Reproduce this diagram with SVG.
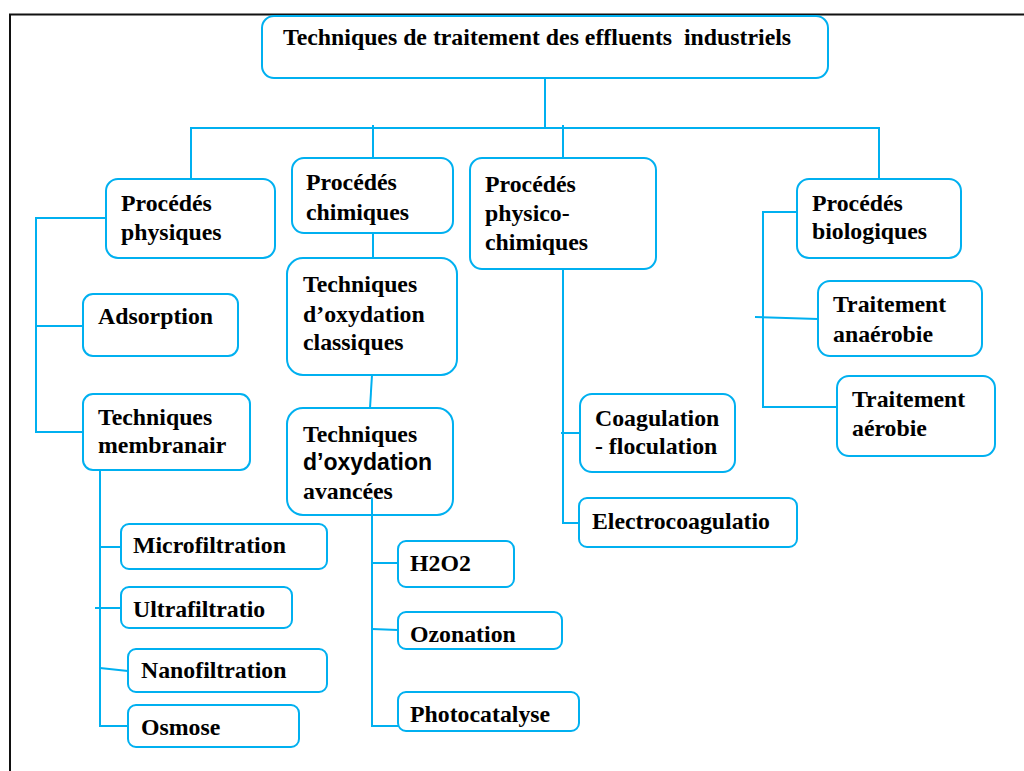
<svg xmlns="http://www.w3.org/2000/svg" width="1024" height="771" viewBox="0 0 1024 771">
<style>
.b{fill:#fff;stroke:#00B0F0;stroke-width:2}
.c{fill:none;stroke:#00B0F0;stroke-width:2}
.t{font-family:"Liberation Serif","Times New Roman",serif;font-weight:bold;font-size:23.8px;fill:#000;white-space:pre}
.s{font-family:"Liberation Sans",Arial,sans-serif;font-weight:bold;font-size:23px;fill:#000}
</style>
<rect width="1024" height="771" fill="#fff"/>
<path d="M10,771 V14.5 H1024" fill="none" stroke="#111" stroke-width="2"/>
<g id="connectors">
<path class="c" d="M545,79 V128"/>
<path class="c" d="M191,179 V128 H879 V179"/>
<path class="c" d="M373,125 V158"/>
<path class="c" d="M563,125 V158"/>
<path class="c" d="M106,218 H36 V432 H83"/>
<path class="c" d="M36,326 H83"/>
<path class="c" d="M373,233 V258"/>
<path class="c" d="M372,375 L370,408"/>
<path class="c" d="M372,498 V726 H398"/>
<path class="c" d="M372,563 H398"/>
<path class="c" d="M372,629 L398,630"/>
<path class="c" d="M100,470 V726 H128"/>
<path class="c" d="M100,547 H121"/>
<path class="c" d="M95,608 H121"/>
<path class="c" d="M100,668 L128,671"/>
<path class="c" d="M563,269 V523 H579"/>
<path class="c" d="M561,433 H580"/>
<path class="c" d="M797,212 H763 V407 H837"/>
<path class="c" d="M755,317 L818,319"/>
</g>
<g id="root"><rect class="b" x="262" y="16" width="566" height="62" rx="12"/><text class="t" x="283" y="45" font-size="23" xml:space="preserve">Techniques de traitement des effluents  industriels</text></g>
<g id="physiques"><rect class="b" x="106" y="179" width="169" height="79" rx="12"/><text class="t" x="121" y="211">Procédés</text><text class="t" x="121" y="240">physiques</text></g>
<g id="chimiques"><rect class="b" x="292" y="158" width="161" height="75" rx="12"/><text class="t" x="306" y="190">Procédés</text><text class="t" x="306" y="220">chimiques</text></g>
<g id="physico"><rect class="b" x="470" y="158" width="186" height="111" rx="12"/><text class="t" x="485" y="192">Procédés</text><text class="t" x="485" y="221">physico-</text><text class="t" x="485" y="250">chimiques</text></g>
<g id="biologiques"><rect class="b" x="797" y="179" width="164" height="79" rx="12"/><text class="t" x="812" y="211">Procédés</text><text class="t" x="812" y="239">biologiques</text></g>
<g id="adsorption"><rect class="b" x="83" y="294" width="155" height="62" rx="10"/><text class="t" x="98" y="324">Adsorption</text></g>
<g id="membranair"><rect class="b" x="83" y="394" width="167" height="76" rx="10"/><text class="t" x="98" y="425">Techniques</text><text class="t" x="98" y="453">membranair</text></g>
<g id="classiques"><rect class="b" x="287" y="258" width="170" height="117" rx="16"/><text class="t" x="303" y="292">Techniques</text><text class="t" x="303" y="322">d’oxydation</text><text class="t" x="303" y="350">classiques</text></g>
<g id="avancees"><rect class="b" x="287" y="408" width="166" height="107" rx="16"/><text class="t" x="303" y="442">Techniques</text><text class="s" x="303" y="470">d’oxydation</text><text class="t" x="303" y="499">avancées</text></g>
<path class="c" d="M372,498 V515"/>
<g id="microfiltration"><rect class="b" x="121" y="524" width="206" height="45" rx="8"/><text class="t" x="133" y="553">Microfiltration</text></g>
<g id="ultrafiltratio"><rect class="b" x="121" y="587" width="171" height="41" rx="8"/><text class="t" x="133" y="617">Ultrafiltratio</text></g>
<g id="nanofiltration"><rect class="b" x="128" y="649" width="199" height="43" rx="8"/><text class="t" x="141" y="678">Nanofiltration</text></g>
<g id="osmose"><rect class="b" x="128" y="705" width="171" height="42" rx="8"/><text class="t" x="141" y="735">Osmose</text></g>
<g id="h2o2"><rect class="b" x="398" y="541" width="116" height="46" rx="8"/><text class="t" x="410" y="571">H2O2</text></g>
<g id="ozonation"><rect class="b" x="398" y="612" width="164" height="37" rx="8"/><text class="t" x="410" y="642">Ozonation</text></g>
<g id="photocatalyse"><rect class="b" x="398" y="692" width="181" height="39" rx="8"/><text class="t" x="410" y="722">Photocatalyse</text></g>
<g id="coagulation"><rect class="b" x="580" y="394" width="155" height="78" rx="12"/><text class="t" x="595" y="426">Coagulation</text><text class="t" x="595" y="454">- floculation</text></g>
<g id="electrocoagulatio"><rect class="b" x="579" y="498" width="218" height="49" rx="8"/><text class="t" x="592" y="529">Electrocoagulatio</text></g>
<g id="anaerobie"><rect class="b" x="818" y="281" width="164" height="75" rx="12"/><text class="t" x="833" y="312">Traitement</text><text class="t" x="833" y="342">anaérobie</text></g>
<g id="aerobie"><rect class="b" x="837" y="376" width="158" height="80" rx="12"/><text class="t" x="852" y="407">Traitement</text><text class="t" x="852" y="436">aérobie</text></g>
</svg>
